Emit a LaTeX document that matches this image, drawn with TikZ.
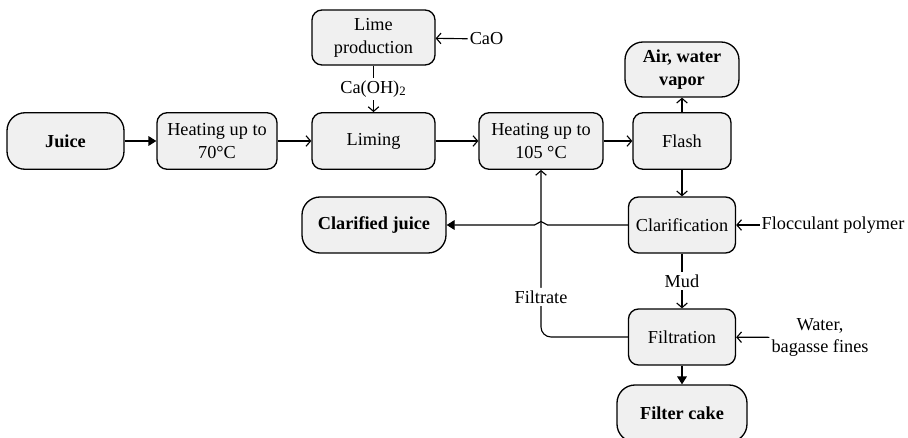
\documentclass[tikz,border=0pt]{standalone}
\usepackage{fontspec}
\setmainfont{Liberation Serif}
\usetikzlibrary{arrows.meta,calc}
\begin{document}
\begin{tikzpicture}[font=\fontsize{10.4}{13}\selectfont,
  proc/.style={draw,line width=0.75pt,fill=black!6,rounded corners=0.2cm,align=center,
    minimum height=1.13cm,inner sep=2pt},
  term/.style={proc,rounded corners=0.36cm,font=\fontsize{10.4}{13}\selectfont\bfseries},
  lbl/.style={fill=white,inner sep=1.5pt},
  arr/.style={line width=0.65pt,-{Straight Barb[length=2.6pt,width=6pt]}},
  farr/.style={line width=0.65pt,-{Triangle[length=4.5pt,width=5.5pt]}}]
\useasboundingbox (0,0) rectangle (18.16,-8.74);
% main line
\node[term,minimum width=2.34cm] (juice) at (1.31,-2.82) {Juice};
\node[proc,minimum width=2.4cm] (h70) at (4.34,-2.82) {Heating up to\\70°C};
\node[proc,minimum width=2.46cm] (liming) at (7.47,-2.82) {Liming};
\node[proc,minimum width=2.48cm] (h105) at (10.82,-2.82) {Heating up to\\105 °C};
\node[proc,minimum width=1.96cm] (flash) at (13.64,-2.82) {Flash};
\node[proc,minimum width=2.46cm,minimum height=1.1cm] (lime) at (7.47,-0.75) {Lime\\production};
\node[term,minimum width=2.28cm,minimum height=1.1cm] (air) at (13.64,-1.39) {Air, water\\vapor};
\node[proc,minimum width=2.14cm,minimum height=1.12cm] (clar) at (13.64,-4.5) {Clarification};
\node[term,minimum width=2.88cm,minimum height=1.12cm] (cjuice) at (7.48,-4.5) {Clarified juice};
\node[proc,minimum width=2.14cm,minimum height=1.12cm] (filt) at (13.64,-6.74) {Filtration};
\node[term,minimum width=2.6cm,minimum height=1.14cm] (cake) at (13.64,-8.27) {Filter cake};
% inputs
\node[inner sep=1pt] (cao) at (9.73,-0.78) {CaO};
\node[inner sep=1pt] (flocc) at (16.66,-4.5) {Flocculant polymer};
\node[align=center,inner sep=1pt] (water) at (16.4,-6.75) {Water,\\bagasse fines};
% streams
\draw[farr] (juice) -- (h70);
\foreach \a/\b in {h70/liming,liming/h105,h105/flash,flash/air,flash/clar,cao/lime,flocc/clar,water/filt}
  \draw[arr] (\a) -- (\b);
\draw[arr] (lime) -- (liming) node[lbl,midway] {Ca(OH)\textsubscript{2}};
\draw[arr] (clar) -- (filt) node[lbl,midway] {Mud};
\draw[farr] (filt) -- (cake);
\draw[arr,rounded corners=0.2cm] (filt.west) -| (h105.south) node[lbl,pos=0.62] {Filtrate};
\draw[farr] (clar.west) -- ($(h105|-clar)+(0.13,0)$) to[out=180,in=0] ++(-0.13,0.07)
  to[out=180,in=0] ++(-0.13,-0.07) -- (cjuice.east);
\end{tikzpicture}
\end{document}
